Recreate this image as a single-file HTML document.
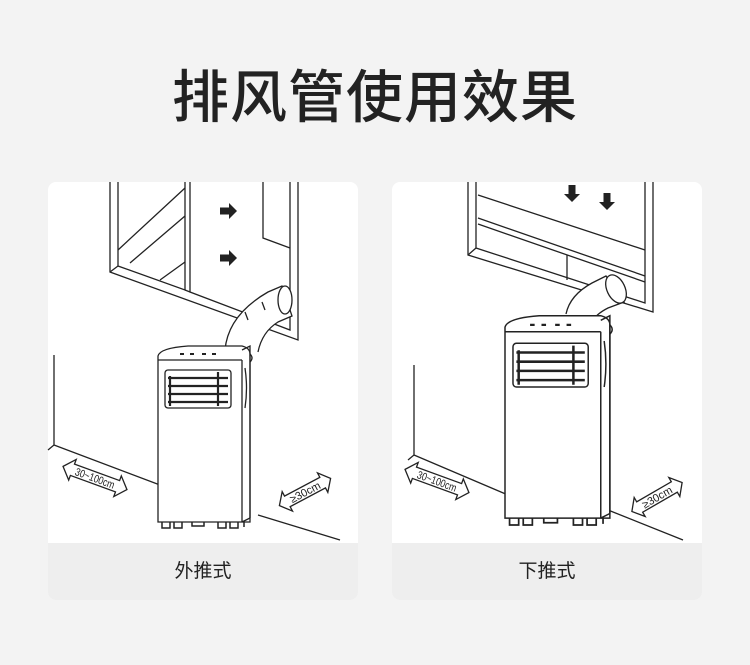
<!DOCTYPE html>
<html><head><meta charset="utf-8"><style>
html,body{margin:0;padding:0;background:#f3f3f3;}
body{width:750px;height:665px;position:relative;overflow:hidden;font-family:"Liberation Sans","Noto Sans CJK SC",sans-serif;}
.title{position:absolute;left:0;top:52px;width:750px;text-align:center;font-size:57px;color:#222;letter-spacing:1px;font-weight:500;}
.card{position:absolute;top:182px;width:310px;height:418px;background:#fff;border-radius:8px;overflow:hidden;}
.strip{position:absolute;left:0;bottom:0;width:100%;height:57px;background:#eeeeee;text-align:center;line-height:57px;font-size:19px;color:#222;}
svg{position:absolute;left:0;top:0;}
</style></head><body>
<div class="title">排风管使用效果</div>

<div class="card" style="left:48px;"><div class="strip">外推式</div></div>
<div class="card" style="left:392px;"><div class="strip">下推式</div></div>

<svg width="750" height="665" viewBox="0 0 750 665" fill="none" stroke="#222" stroke-width="1.3">
<defs>
<g id="unit">
 <path d="M0 8 Q2 0 30 -2 L84 -2 Q92 0 92 6 L92 174 L0 174 Z" fill="#fff"/>
 <path d="M0 12 L84 12 M84 12 L84 174 M84 174 L92 170 M92 6 Q96 10 92 14" />
 <path d="M84 2 L92 -2 L92 170"/>
 <path d="M87 20 Q90 40 87 60" />
 <rect x="7" y="22" width="66" height="38" rx="3"/>
 <path d="M10 30 H70 M10 38 H70 M10 46 H70 M10 54 H70 M60 24 V58 M12 28 V58" stroke-width="2.2"/>
 <path d="M22 6 h4 M32 6 h4 M44 6 h4 M54 6 h4" stroke-width="2"/>
 <path d="M4 174 v6 h8 v-6 M16 174 v6 h8 v-6 M34 174 v4 h12 v-4 M60 174 v6 h8 v-6 M72 174 v6 h8 v-6 M86 174 v5" stroke-width="1.5"/>
</g>
<g id="arrowR"><path d="M0 -3.5 L9 -3.5 L9 -8 L17 0 L9 8 L9 3.5 L0 3.5 Z" fill="#222" stroke="none"/></g>
<g id="dimL">
 <path d="M-34 0 L-24 -11 L-24 -6 L24 -6 L24 -11 L34 0 L24 11 L24 6 L-24 6 L-24 11 Z" fill="#fff"/>
</g>
<g id="dimS">
 <path d="M-29 0 L-20 -11 L-20 -6 L20 -6 L20 -11 L29 0 L20 11 L20 6 L-20 6 L-20 11 Z" fill="#fff"/>
</g>
</defs>

<!-- LEFT SCENE -->
<path d="M110 182 V272 L298 340 V182"/>
<path d="M118 182 V266 L185 290 V182 M190 182 V292 L290 330 V182"/>
<path d="M110 272 L118 266 M185 290 L190 292"/>
<path d="M118 250 L185 188 M130 263 L185 216 M160 280 L185 262"/>
<path d="M263 182 V238 L290 248"/>
<use href="#arrowR" x="220" y="211"/>
<use href="#arrowR" x="220" y="258"/>
<!-- hose -->
<path d="M225 350 Q228 315 268 292 L282 286 L292 316 L278 322 Q262 332 258 352" fill="#fff"/>
<ellipse cx="285" cy="300" rx="7" ry="14" fill="#fff"/>
<path d="M245 312 l3 8 M262 302 l3 8"/>
<!-- wall -->
<path d="M54 355 V445 L48 450 M54 445 L160 485"/>
<path d="M258 515 L340 540"/>
<use href="#unit" transform="translate(158,348)"/>
<g transform="translate(95,478) rotate(20)">
 <use href="#dimL"/>
 <text x="0" y="4" font-size="11" fill="#222" stroke="none" text-anchor="middle" transform="scale(0.8,1)">30~100cm</text>
</g>
<g transform="translate(305,492) rotate(-28)">
 <use href="#dimS"/>
 <text x="0" y="4" font-size="11" fill="#222" stroke="none" text-anchor="middle">≥30cm</text>
</g>

<!-- RIGHT SCENE -->
<path d="M468 182 V255 L653 312 V182"/>
<path d="M476 182 V248 L645 303 V182"/>
<path d="M478 195 L645 250 M478 218 L645 276 M478 224 L645 282"/>
<path d="M567 255 V280"/>
<path d="M468 255 L476 248"/>
<g transform="translate(572,185) rotate(90)"><use href="#arrowR"/></g>
<g transform="translate(607,193) rotate(90)"><use href="#arrowR"/></g>
<!-- hose -->
<path d="M566 314 Q570 295 592 283 L606 276 L624 302 L608 308 Q596 314 592 322" fill="#fff"/>
<ellipse cx="616" cy="289" rx="9" ry="15" transform="rotate(-25 616 289)" fill="#fff"/>
<path d="M414 365 V455 L408 460 M414 455 L508 495"/>
<path d="M608 510 L683 540"/>
<use href="#unit" transform="translate(505,318) scale(1.14,1.15)"/>
<g transform="translate(437,481) rotate(20)">
 <use href="#dimL"/>
 <text x="0" y="4" font-size="11" fill="#222" stroke="none" text-anchor="middle" transform="scale(0.8,1)">30~100cm</text>
</g>
<g transform="translate(657,497) rotate(-30)">
 <use href="#dimS"/>
 <text x="0" y="4" font-size="11" fill="#222" stroke="none" text-anchor="middle">≥30cm</text>
</g>
</svg>
</body></html>
